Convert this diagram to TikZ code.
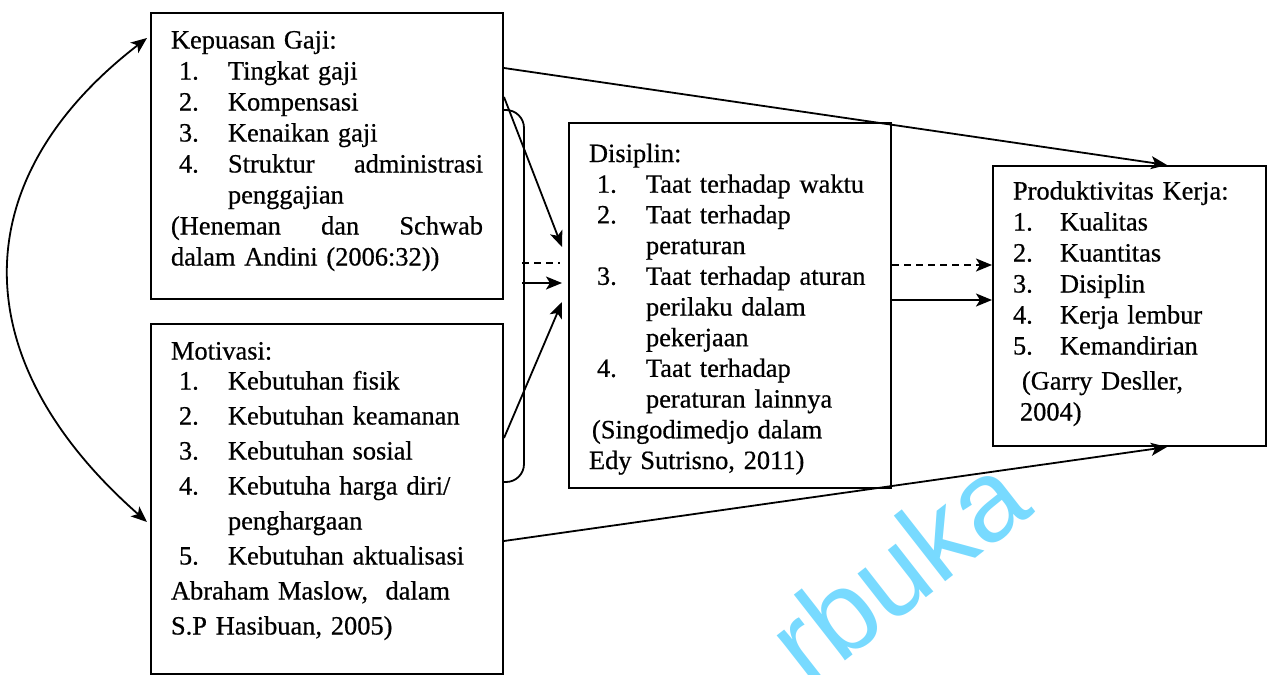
\documentclass[tikz,border=0pt]{standalone}
\usepackage{fontspec}
\setmainfont[FakeBold=0.6]{Liberation Serif}
\newfontfamily\wmfont{Liberation Sans}
\usepackage{tikz}
\usetikzlibrary{arrows.meta}
\definecolor{wmcyan}{RGB}{120,218,255}
\newcommand{\nmr}[1]{\hspace*{8pt}\makebox[49pt][l]{#1}}
\newcommand{\nmrp}[1]{\makebox[47pt][l]{#1}}
\newcommand{\sambung}{\hspace*{57pt}}

\begin{document}
\begin{tikzpicture}[x=1pt,y=-1pt,
  kotak/.style={draw,line width=2pt,anchor=north west,inner xsep=20pt,inner ysep=0pt,align=left,text height=18pt,font=\fontsize{26.4}{31}\selectfont},
  panah/.style={-{Stealth[length=16pt,width=13pt,inset=4pt]},line width=1.8pt},
  garis/.style={line width=1.8pt}]
\useasboundingbox (0,0) rectangle (1270,675);
\clip (0,0) rectangle (1270,675);
\node[text=wmcyan,font=\wmfont\fontsize{115}{115}\selectfont,rotate=38] (wm) at (897,568) {rbuka};
\node[kotak,minimum width=352pt,minimum height=286pt,text width=312pt,text depth=233pt] (gaji) at (150,12) {Kepuasan Gaji:\\
\nmr{1.}Tingkat gaji\\
\nmr{2.}Kompensasi\\
\nmr{3.}Kenaikan gaji\\
\nmr{4.}Struktur\hfill administrasi\\
\sambung penggajian\\
(Heneman\hfill dan\hfill Schwab\\
dalam Andini (2006:32))};
\node[kotak,minimum width=352pt,minimum height=350pt,text width=312pt,text depth=297pt,font=\fontsize{26.4}{35}\selectfont] (motivasi) at (150,323) {Motivasi:\\[-5pt]
\nmr{1.}Kebutuhan fisik\\
\nmr{2.}Kebutuhan keamanan\\
\nmr{3.}Kebutuhan sosial\\
\nmr{4.}Kebutuha harga diri/\\
\sambung penghargaan\\
\nmr{5.}Kebutuhan aktualisasi\\
Abraham Maslow,\ \ dalam\\
S.P Hasibuan, 2005)};
\node[kotak,minimum width=322pt,minimum height=365pt,text width=282pt,text depth=305pt,font=\fontsize{26.4}{30.7}\selectfont] (disiplin) at (568,122) {Disiplin:\\
\nmr{1.}Taat terhadap waktu\\
\nmr{2.}Taat terhadap\\
\sambung peraturan\\
\nmr{3.}Taat terhadap aturan\\
\sambung perilaku dalam\\
\sambung pekerjaan\\
\nmr{4.}Taat terhadap\\
\sambung peraturan lainnya\\
\hspace*{3pt}(Singodimedjo dalam\\
Edy Sutrisno, 2011)};
\node[kotak,minimum width=273pt,minimum height=280pt,text width=233pt,text depth=231pt] (produktif) at (992,165) {Produktivitas Kerja:\\
\nmrp{1.}Kualitas\\
\nmrp{2.}Kuantitas\\
\nmrp{3.}Disiplin\\
\nmrp{4.}Kerja lembur\\
\nmrp{5.}Kemandirian\\[4pt]
\hspace*{9pt}(Garry Desller,\\
\hspace*{7pt}2004)};
\coordinate (k1) at (522,263);
\coordinate (k2) at (522,283);
\coordinate (d1) at ([yshift=-143pt]disiplin.north east);
\coordinate (d2) at ([yshift=-178pt]disiplin.north east);
\draw[{Stealth[length=16pt,width=13pt,inset=4pt]}-{Stealth[length=16pt,width=13pt,inset=4pt]},line width=1.8pt] ([xshift=-3pt,yshift=-26pt]gaji.north west) .. controls (-37,180) and (-37,360) .. ([xshift=-3pt,yshift=-199pt]motivasi.north west);
\draw[garis,rounded corners=18pt] ([yshift=-98pt]gaji.north east) -- ++(20,0) |- ([yshift=-159pt]motivasi.north east);
\draw[panah] ([yshift=-85pt]gaji.north east) -- ([xshift=-6pt,yshift=-125pt]disiplin.north west);
\draw[panah] ([yshift=-115pt]motivasi.north east) -- ([xshift=-6pt,yshift=-180pt]disiplin.north west);
\draw[garis,dash pattern=on 7pt off 5pt,shorten >=8pt] (k1) -- (k1 -| disiplin.west);
\draw[panah,shorten >=6pt] (k2) -- (k2 -| disiplin.west);
\draw[panah,dash pattern=on 7pt off 5pt] (d1) -- (d1 -| produktif.west);
\draw[panah] (d2) -- (d2 -| produktif.west);
\draw[panah] ([yshift=-56pt]gaji.north east) -- ([xshift=175pt]produktif.north west);
\draw[panah] ([yshift=-218pt]motivasi.north east) -- ([xshift=175pt]produktif.south west);
\end{tikzpicture}
\end{document}
